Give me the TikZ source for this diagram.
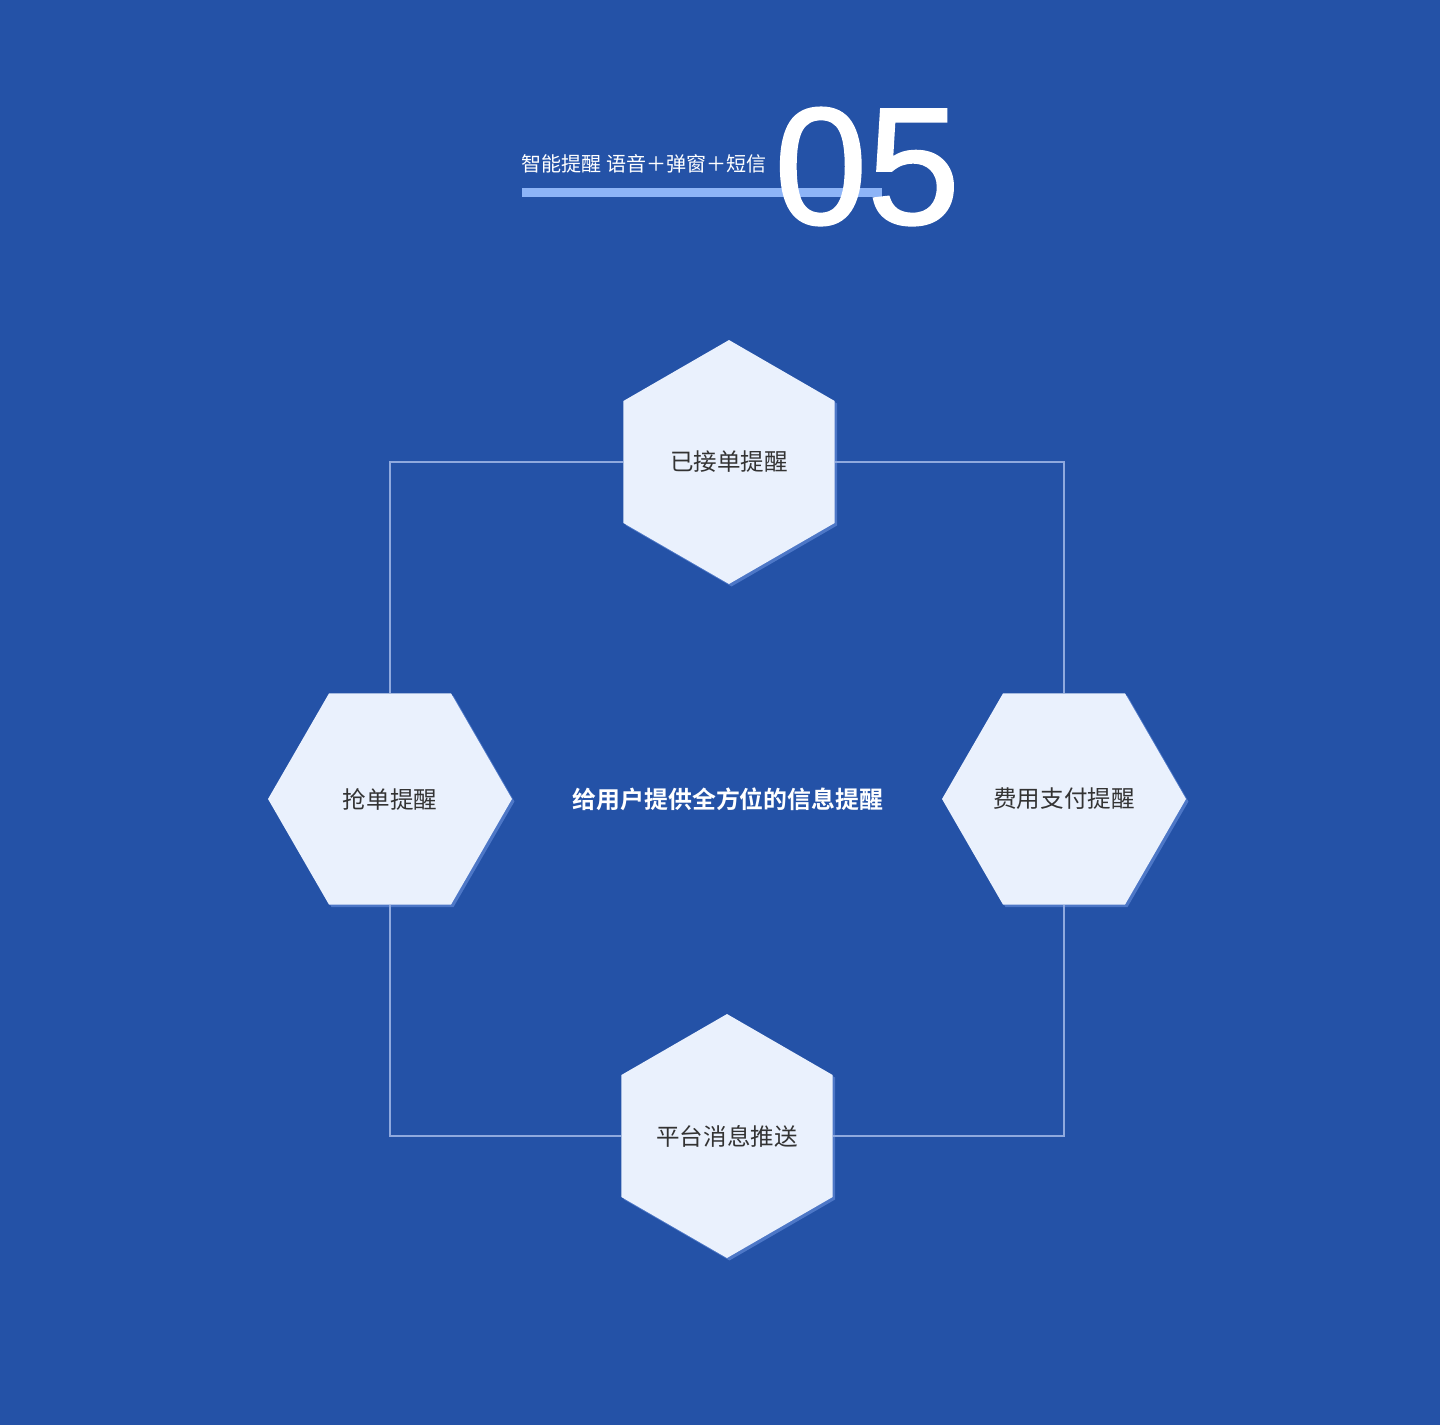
\documentclass[tikz,border=0pt]{standalone}
\usepackage{fontspec}
\setmainfont{Liberation Sans}
\newfontfamily\cjk{Noto Sans CJK SC}[BoldFont={* Bold}]
\newfontfamily\numfont{Liberation Sans}[FakeBold=1.2]
\usetikzlibrary{shapes.geometric, shadows}

\definecolor{bgblue}{HTML}{2452A7}
\definecolor{hexfill}{HTML}{EAF1FD}
\definecolor{barblue}{HTML}{8DB4F7}
\definecolor{linkblue}{HTML}{8FA9DE}
\definecolor{glowblue}{HTML}{7FA6EE}
\definecolor{labelgray}{HTML}{333333}

\tikzset{
 hexa/.style={regular polygon, regular polygon sides=6, minimum size=4.88cm,
  inner sep=0pt, outer sep=0pt, fill=hexfill, text=labelgray,
  font=\cjk\fontsize{13.4}{16}\selectfont,
  drop shadow={fill=glowblue, opacity=.45, shadow xshift=.05cm, shadow yshift=-.05cm}},
 hexup/.style={hexa, shape border rotate=30},
 link/.style={draw=linkblue, line width=0.6pt}
}

\begin{document}
\begin{tikzpicture}[x=0.02cm, y=-0.02cm]
 \fill[bgblue] (0,0) rectangle (1440,1425);
 \useasboundingbox (0,0) rectangle (1440,1425);

 %见出し
 \fill[barblue] (522,188) rectangle (882,197);
 \node[anchor=base west, inner sep=0pt, text=white, font=\numfont\fontsize{95}{95}\selectfont] (num) at (774,224) {05};
 \node[anchor=east, inner sep=0pt, text=white, font=\cjk\fontsize{11.4}{13}\selectfont] (title) at (767,164) {智能提醒 语音＋弹窗＋短信};

 %六角形
 \node[hexup] (top) at (729,462) {已接单提醒};
 \node[hexa] (left) at (390,799) {抢单提醒};
 \node[hexa] (right) at (1064,799) {费用支付提醒};
 \node[hexup] (bot) at (727,1136) {平台消息推送};

 \node[text=white, font=\cjk\bfseries\fontsize{13.6}{16}\selectfont] (core) at (728,799) {给用户提供全方位的信息提醒};

 \draw[link] (top) -| (left);
 \draw[link] (left) |- (bot);
 \draw[link] (bot) -| (right);
 \draw[link] (right) |- (top);
\end{tikzpicture}
\end{document}
